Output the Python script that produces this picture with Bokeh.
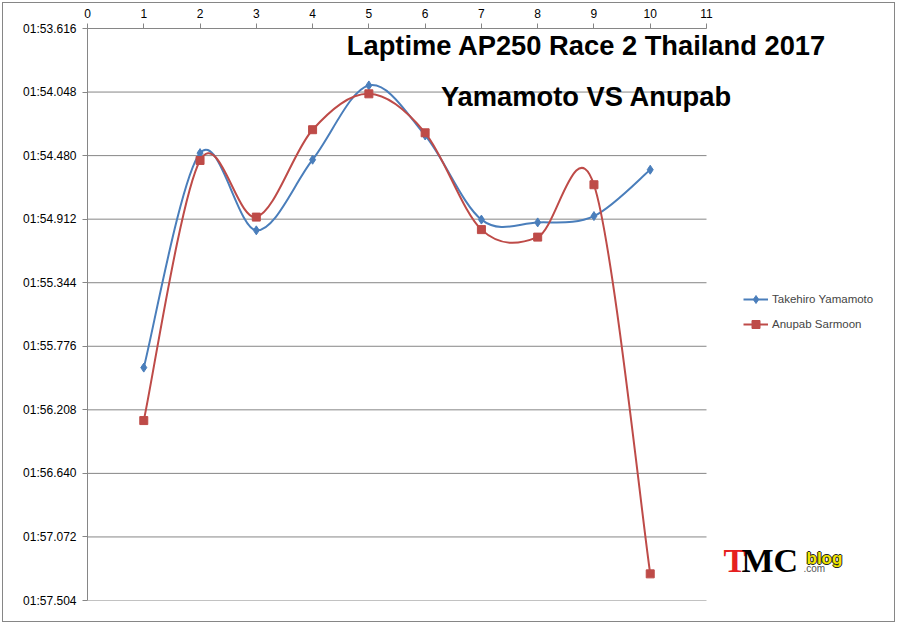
from bokeh.plotting import figure
from bokeh.models import (Range1d, FixedTicker, Legend, LegendItem, Label, ColumnDataSource,
                          InlineStyleSheet)
from bokeh.embed import file_html
from bokeh.resources import INLINE

# ---- data (lap times: seconds within minute 01) ----
laps = [1, 2, 3, 4, 5, 6, 7, 8, 9, 10]
yamamoto = [55.921, 54.463, 54.988, 54.508, 54.003, 54.343, 54.915, 54.934, 54.891, 54.576]
anupab = [56.281, 54.513, 54.898, 54.304, 54.060, 54.325, 54.983, 55.034, 54.678, 57.323]
series_names = ["Takehiro Yamamoto", "Anupab Sarmoon"]
x_ticks = [0, 1, 2, 3, 4, 5, 6, 7, 8, 9, 10, 11]
y_ticks = [53.616, 54.048, 54.480, 54.912, 55.344, 55.776, 56.208, 56.640, 57.072, 57.504]
y_tick_labels = ["01:53.616", "01:54.048", "01:54.480", "01:54.912", "01:55.344",
                 "01:55.776", "01:56.208", "01:56.640", "01:57.072", "01:57.504"]
title_lines = ["Laptime AP250 Race 2 Thailand 2017", "Yamamoto VS Anupab"]

BLUE = "#4A7EBB"
RED = "#BE4B48"
GRID = "#868686"
LABEL_FONT = "'Liberation Sans', Arial, sans-serif"

W, H = 897, 624
LEFT, TOP, BOTTOM = 87, 28, 24
AXIS_PX = 619                      # pixel length of the 0..11 axis
frame_w = W - LEFT
x_end = x_ticks[-1] * frame_w / AXIS_PX

p = figure(width=W, height=H, output_backend="svg", toolbar_location=None,
           x_range=Range1d(x_ticks[0], x_end), y_range=Range1d(y_ticks[-1], y_ticks[0]),
           x_axis_location="above", min_border_left=LEFT, min_border_right=0,
           min_border_top=TOP, min_border_bottom=BOTTOM)
p.outline_line_color = None
p.background_fill_color = None
p.border_fill_color = None
css = ":host { background: white; outline: 1px solid #868686; outline-offset: -3px; }"
p.stylesheets = [InlineStyleSheet(css=css)]

# axes
p.xaxis.ticker = FixedTicker(ticks=x_ticks)
p.xaxis.bounds = (x_ticks[0], x_ticks[-1])
p.yaxis.ticker = FixedTicker(ticks=y_ticks)
p.yaxis.major_label_overrides = {t: l for t, l in zip(y_ticks, y_tick_labels)}
for ax in (p.xaxis[0], p.yaxis[0]):
    ax.axis_line_color = GRID
    ax.major_tick_line_color = GRID
    ax.minor_tick_line_color = None
    ax.major_tick_in = 0
    ax.major_tick_out = 5
    ax.major_label_text_font = LABEL_FONT
    ax.major_label_text_font_size = "12px"
    ax.major_label_text_color = "black"
p.xaxis.major_label_standoff = 6
p.yaxis.major_label_standoff = 6

p.xgrid.grid_line_color = None
p.ygrid.grid_line_color = None
# horizontal gridlines spanning the 0..11 axis only
p.segment(x0=[x_ticks[0]] * len(y_ticks), x1=[x_ticks[-1]] * len(y_ticks),
          y0=y_ticks, y1=y_ticks, line_color=GRID, line_width=1)


def bezier_source(xs, ys):
    """Excel-style smoothing: cubic Bezier segments with Catmull-Rom control points."""
    n = len(xs)
    d = dict(x0=[], y0=[], x1=[], y1=[], cx0=[], cy0=[], cx1=[], cy1=[])
    for i in range(n - 1):
        pm = i - 1 if i > 0 else i
        pp = i + 2 if i + 2 < n else i + 1
        d["x0"].append(xs[i]); d["y0"].append(ys[i])
        d["x1"].append(xs[i + 1]); d["y1"].append(ys[i + 1])
        d["cx0"].append(xs[i] + (xs[i + 1] - xs[pm]) / 6.0)
        d["cy0"].append(ys[i] + (ys[i + 1] - ys[pm]) / 6.0)
        d["cx1"].append(xs[i + 1] - (xs[pp] - xs[i]) / 6.0)
        d["cy1"].append(ys[i + 1] - (ys[pp] - ys[i]) / 6.0)
    return ColumnDataSource(d)


NAN = float("nan")
items = []
for name, vals, color, marker, msize in [
        (series_names[0], yamamoto, BLUE, "diamond", 9),
        (series_names[1], anupab, RED, "square", 8)]:
    p.bezier(x0="x0", y0="y0", x1="x1", y1="y1", cx0="cx0", cy0="cy0", cx1="cx1", cy1="cy1",
             source=bezier_source(laps, vals), line_color=color, line_width=2)
    sc = p.scatter(laps, vals, marker=marker, size=msize, fill_color=color, line_color=color)
    lg = p.line([NAN], [NAN], line_color=color, line_width=2)
    items.append(LegendItem(label=name, renderers=[lg, sc]))

legend = Legend(items=items, location=(656, 266), border_line_color=None,
                background_fill_alpha=0, padding=0, margin=0, spacing=5,
                glyph_width=25, glyph_height=20, label_standoff=4,
                label_text_font=LABEL_FONT, label_text_font_size="11.5px")
p.add_layout(legend, "center")

# title text inside the plot
TITLE_FONT = "'Liberation Sans', Arial, sans-serif"
for txt, yy in zip(title_lines, [555, 504]):
    p.add_layout(Label(x=499, y=yy, x_units="screen", y_units="screen", text=txt,
                       text_font=TITLE_FONT, text_font_style="bold", text_font_size="27.3px",
                       text_align="center", text_baseline="alphabetic", text_color="black"))

# logo
SERIF = "'Liberation Serif', serif"
p.add_layout(Label(x=636, y=40, x_units="screen", y_units="screen", text="T",
                   text_font=SERIF, text_font_style="bold", text_font_size="34px",
                   text_color="#E52020", text_baseline="alphabetic"))
p.add_layout(Label(x=654, y=40, x_units="screen", y_units="screen", text="MC",
                   text_font=SERIF, text_font_style="bold", text_font_size="34px",
                   text_color="black", text_baseline="alphabetic"))
for dx, dy, col in [(-1, 0, "#222222"), (1, 0, "#222222"), (0, -1, "#222222"), (0, 1, "#222222"), (0, 0, "#F2E600")]:
    p.add_layout(Label(x=719 + dx, y=42 + dy, x_units="screen", y_units="screen", text="blog",
                       text_font="'Liberation Sans', sans-serif", text_font_style="bold",
                       text_font_size="17px", text_color=col, text_baseline="alphabetic"))
p.add_layout(Label(x=716, y=32, x_units="screen", y_units="screen", text=".com",
                   text_font="'Liberation Sans', sans-serif", text_font_size="10px",
                   text_color="#555555", text_baseline="alphabetic"))

open("out.html", "w").write(file_html(p, INLINE))
